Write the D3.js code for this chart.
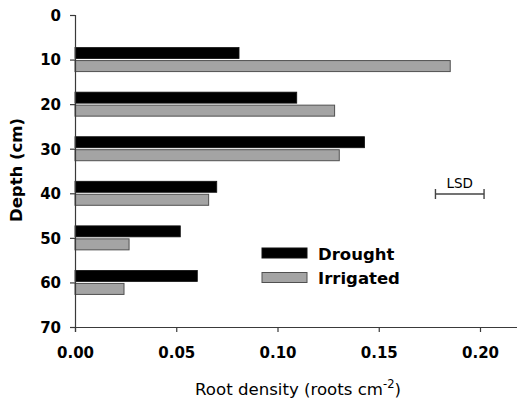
<!DOCTYPE html>
<html>
<head>
<meta charset="utf-8">
<script src="https://cdn.jsdelivr.net/npm/d3@7"></script>
<style>
  html, body { margin: 0; padding: 0; background: #fff; }
  svg { display: block; }
</style>
</head>
<body>
<svg id="chart" width="517" height="403"></svg>
<script>
// ---- data ----
const depths = [10, 20, 30, 40, 50, 60];
const drought = [0.081, 0.1095, 0.143, 0.070, 0.052, 0.0604];
const irrigated = [0.1853, 0.1282, 0.1305, 0.066, 0.0267, 0.0242];
const seriesNames = ["Drought", "Irrigated"];
const xTickValues = [0, 0.05, 0.10, 0.15, 0.20];
const yTickValues = [0, 10, 20, 30, 40, 50, 60, 70];
const lsdValue = 0.024;
const lsdStart = 0.178;

const svg = d3.select("#chart");
const x = d3.scaleLinear().domain([0, 0.22]).range([75, 520.5]);
const y = d3.scaleLinear().domain([0, 70]).range([15, 327]);

const barH = 11, gap = 2;
const colors = { Drought: "#000000", Irrigated: "#a4a4a4" };
const strokes = { Drought: "#111111", Irrigated: "#505050" };

// bars
const g = svg.append("g");
g.selectAll("rect.dr").data(depths.map((d, i) => ({ d, v: drought[i] })))
  .enter().append("rect")
  .attr("x", x(0)).attr("y", p => y(p.d) - gap / 2 - barH)
  .attr("width", p => x(p.v) - x(0)).attr("height", barH)
  .attr("fill", colors.Drought).attr("stroke", strokes.Drought).attr("stroke-width", 0.8);
g.selectAll("rect.ir").data(depths.map((d, i) => ({ d, v: irrigated[i] })))
  .enter().append("rect")
  .attr("x", x(0)).attr("y", p => y(p.d) + gap / 2)
  .attr("width", p => x(p.v) - x(0)).attr("height", barH)
  .attr("fill", colors.Irrigated).attr("stroke", strokes.Irrigated).attr("stroke-width", 1);

// axes
const yAxis = d3.axisLeft(y).tickValues(yTickValues).tickSize(5).tickPadding(9).tickFormat(d3.format("d"));
const yg = svg.append("g").attr("transform", `translate(${x(0)},0)`).call(yAxis);
const xAxis = d3.axisBottom(x).tickValues(xTickValues).tickSize(5).tickPadding(15).tickFormat(d3.format(".2f"));
const xg = svg.append("g").attr("transform", `translate(0,${y(70)})`).call(xAxis);

[yg, xg].forEach(a => {
  a.select(".domain").attr("stroke", "#3a3a3a").attr("stroke-width", 1.2);
  a.selectAll(".tick line").attr("stroke", "#3a3a3a").attr("stroke-width", 1.2);
  a.selectAll(".tick text").attr("fill", "#000")
    .style("font-family", "'DejaVu Sans', sans-serif").style("font-weight", "bold").style("font-size", "15px");
});
yg.selectAll(".tick text").attr("dy", "0.36em");

// axis titles
svg.append("text")
  .attr("transform", `translate(22,170) rotate(-90)`)
  .attr("text-anchor", "middle")
  .style("font-family", "'DejaVu Sans', sans-serif").style("font-weight", "bold").style("font-size", "16.5px")
  .text("Depth (cm)");

const xt = svg.append("text")
  .attr("x", 298).attr("y", 395)
  .attr("text-anchor", "middle")
  .style("font-family", "'DejaVu Sans', sans-serif").style("font-size", "16.6px");
xt.append("tspan").text("Root density (roots cm");
xt.append("tspan").attr("dy", "-7").style("font-size", "11.5px").text("-2");
xt.append("tspan").attr("dy", "7").text(")");

// legend
const leg = svg.append("g");
seriesNames.forEach((n, i) => {
  const yy = 248 + i * 24.5;
  leg.append("rect").attr("x", 262).attr("y", yy).attr("width", 45).attr("height", 10)
    .attr("fill", colors[n]).attr("stroke", strokes[n]).attr("stroke-width", 1);
  leg.append("text").attr("x", 318).attr("y", yy + 11.5)
    .style("font-family", "'DejaVu Sans', sans-serif").style("font-weight", "bold").style("font-size", "16.5px")
    .text(n);
});

// LSD bar
const lsd = svg.append("g").attr("stroke", "#444").attr("stroke-width", 1.4);
const lx0 = x(lsdStart), lx1 = x(lsdStart + lsdValue), ly = 194;
lsd.append("line").attr("x1", lx0).attr("x2", lx1).attr("y1", ly).attr("y2", ly);
lsd.append("line").attr("x1", lx0).attr("x2", lx0).attr("y1", ly - 5).attr("y2", ly + 5);
lsd.append("line").attr("x1", lx1).attr("x2", lx1).attr("y1", ly - 5).attr("y2", ly + 5);
svg.append("text").attr("x", (lx0 + lx1) / 2).attr("y", 188).attr("text-anchor", "middle")
  .style("font-family", "'DejaVu Sans', sans-serif").style("font-size", "13.5px")
  .text("LSD");
</script>
</body>
</html>
